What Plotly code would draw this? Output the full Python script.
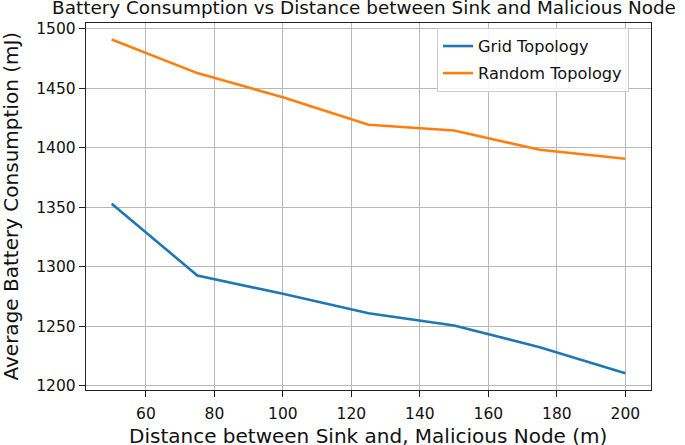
import plotly.graph_objects as go

distance = [50, 75, 100, 125, 150, 175, 200]
grid_topology = [1353, 1292.7, 1277.3, 1261, 1250.7, 1232.4, 1210.6]
random_topology = [1491, 1462.7, 1442.5, 1419.3, 1414.5, 1398.3, 1390.8]
x_ticks = [60, 80, 100, 120, 140, 160, 180, 200]
y_ticks = [1200, 1250, 1300, 1350, 1400, 1450, 1500]

FONT = "DejaVu Sans"
PLOT_L, PLOT_R, PLOT_T, PLOT_B = 86, 651, 23, 390
PW, PH = PLOT_R - PLOT_L, PLOT_B - PLOT_T

fig = go.Figure()
fig.add_trace(go.Scatter(x=distance, y=grid_topology, mode="lines", name="Grid Topology",
                         legendgroup="g", line=dict(color="#1f77b4", width=2.6)))
fig.add_trace(go.Scatter(x=distance, y=random_topology, mode="lines", name="Random Topology",
                         legendgroup="r", line=dict(color="#ff7f0e", width=2.6)))

axis_common = dict(
    showgrid=True, gridcolor="#b8b8b8", gridwidth=1.3,
    showline=True, linecolor="#222222", linewidth=1.4, mirror=True,
    ticks="outside", ticklen=6, tickwidth=1.3, tickcolor="#222222",
    tickfont=dict(family=FONT, size=15.5, color="#111111"),
    zeroline=False, automargin=False,
)

fig.update_layout(
    template="none",
    width=685, height=445,
    margin=dict(l=PLOT_L, r=685 - PLOT_R, t=PLOT_T, b=445 - PLOT_B),
    paper_bgcolor="white", plot_bgcolor="white",
    title=dict(text="Battery Consumption vs Distance between Sink and Malicious Node",
               x=(364 - PLOT_L) / PW, xref="paper", xanchor="center",
               y=1 - 8 / 445, yref="container", yanchor="middle",
               font=dict(family=FONT, size=18.4, color="#111111")),
    xaxis=dict(range=[42.5, 207.5], tickvals=x_ticks, ticklabelstandoff=3,
               **axis_common),
    yaxis=dict(range=[1196.5, 1504.8], tickvals=y_ticks, ticksuffix="\u2005",
               **axis_common),
    legend=dict(x=(437 - PLOT_L) / PW, xanchor="left", y=(PLOT_B - 28) / PH, yanchor="top",
                bgcolor="rgba(255,255,255,0.85)", bordercolor="#cccccc", borderwidth=1,
                tracegroupgap=3,
                font=dict(family=FONT, size=16.2, color="#111111")),
    showlegend=True,
    annotations=[
        dict(text="Distance between Sink and, Malicious Node (m)", showarrow=False,
             xref="paper", yref="paper", x=(368 - PLOT_L) / PW, y=-(436 - PLOT_B) / PH,
             xanchor="center", yanchor="middle",
             font=dict(family=FONT, size=20, color="#111111")),
        dict(text="Average Battery Consumption (mJ)", showarrow=False, textangle=-90,
             xref="paper", yref="paper", x=-(PLOT_L - 10) / PW, y=0.5,
             xanchor="center", yanchor="middle",
             font=dict(family=FONT, size=20, color="#111111")),
    ],
)

fig.write_html("out.html", config={"displayModeBar": False},
               post_script="document.body.style.margin='0';")
